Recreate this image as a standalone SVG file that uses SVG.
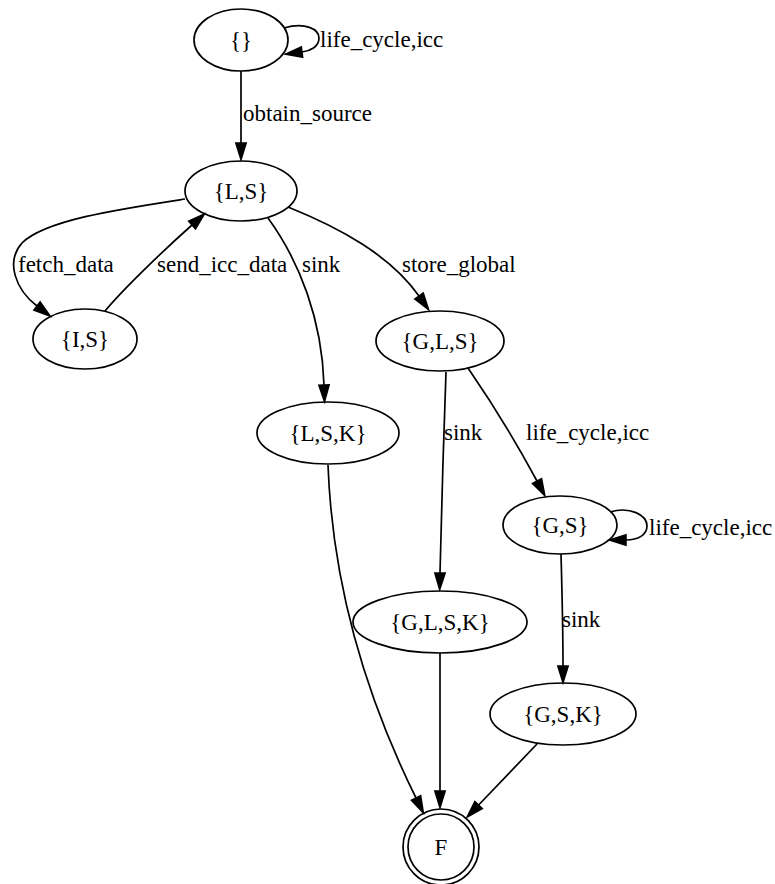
<svg xmlns="http://www.w3.org/2000/svg" width="775" height="884" viewBox="0 0 775 884">
  <style>
    .node ellipse, .node circle { fill: none; stroke: #000; stroke-width: 1.7; }
    .node text { font-family: "Liberation Serif", "Times New Roman", serif; font-size: 23px; text-anchor: middle; fill: #000; }
    .edge path { fill: none; stroke: #000; stroke-width: 1.7; marker-end: url(#arrow); }
    .elabel { font-family: "Liberation Serif", "Times New Roman", serif; font-size: 23px; fill: #000; }
  </style>
  <defs>
    <marker id="arrow" markerUnits="userSpaceOnUse" viewBox="0 0 18 12" refX="0" refY="6" markerWidth="18" markerHeight="12" orient="auto" overflow="visible">
      <path d="M0,0.8 L16.7,6 L0,11.2 Z" fill="#000" stroke="#000" stroke-width="1.5"/>
    </marker>
  </defs>

  <!-- transitions -->
  <g id="edges" class="edge">
    <path d="M284,28 C305,22 319,29 319,38 C319,47 310,51 302,52"/>
    <path d="M241,71 L241,143"/>
    <path d="M185,199 C120,209 45,220 22,243 C5,262 16,290 37,306"/>
    <path d="M105,311 C120,293 155,258 192,225"/>
    <path d="M268,218 C300,262 322,320 324,385"/>
    <path d="M288,207 C340,228 390,255 419,296"/>
    <path d="M446,372 C444,430 441,520 440,573"/>
    <path d="M468,368 C490,400 515,440 537,481"/>
    <path d="M610,512 C630,506 647,515 647,526 C647,535 638,540 626,540"/>
    <path d="M561,554 C562,590 563,630 563,666"/>
    <path d="M328,465 C333,600 375,715 416,798"/>
    <path d="M440,653 L440,791"/>
    <path d="M537,744 L478.6,805"/>
  </g>

  <!-- transition labels -->
  <g id="edge-labels" class="elabel">
    <text x="320" y="47">life_cycle,icc</text>
    <text x="243" y="121">obtain_source</text>
    <text x="18" y="272">fetch_data</text>
    <text x="157" y="272">send_icc_data</text>
    <text x="302" y="272">sink</text>
    <text x="402" y="272">store_global</text>
    <text x="444" y="440">sink</text>
    <text x="526" y="440">life_cycle,icc</text>
    <text x="649" y="535">life_cycle,icc</text>
    <text x="562" y="627">sink</text>
  </g>

  <!-- states -->
  <g id="s_empty" class="node">
    <ellipse cx="241" cy="40" rx="47" ry="31"/>
    <text x="241" y="48">{}</text>
  </g>
  <g id="s_LS" class="node">
    <ellipse cx="241" cy="191" rx="56" ry="30"/>
    <text x="241" y="199">{L,S}</text>
  </g>
  <g id="s_IS" class="node">
    <ellipse cx="85" cy="339" rx="52" ry="30"/>
    <text x="85" y="347">{I,S}</text>
  </g>
  <g id="s_GLS" class="node">
    <ellipse cx="440" cy="341" rx="64" ry="30"/>
    <text x="440" y="349">{G,L,S}</text>
  </g>
  <g id="s_LSK" class="node">
    <ellipse cx="328" cy="433" rx="71" ry="31"/>
    <text x="328" y="441">{L,S,K}</text>
  </g>
  <g id="s_GS" class="node">
    <ellipse cx="560" cy="525" rx="57" ry="29"/>
    <text x="560" y="533">{G,S}</text>
  </g>
  <g id="s_GLSK" class="node">
    <ellipse cx="440" cy="622" rx="87" ry="31"/>
    <text x="440" y="630">{G,L,S,K}</text>
  </g>
  <g id="s_GSK" class="node">
    <ellipse cx="563" cy="714" rx="73" ry="31"/>
    <text x="563" y="722">{G,S,K}</text>
  </g>
  <g id="s_F" class="node">
    <circle cx="441" cy="847" r="33"/>
    <circle cx="441" cy="847" r="38"/>
    <text x="441" y="855">F</text>
  </g>
</svg>
